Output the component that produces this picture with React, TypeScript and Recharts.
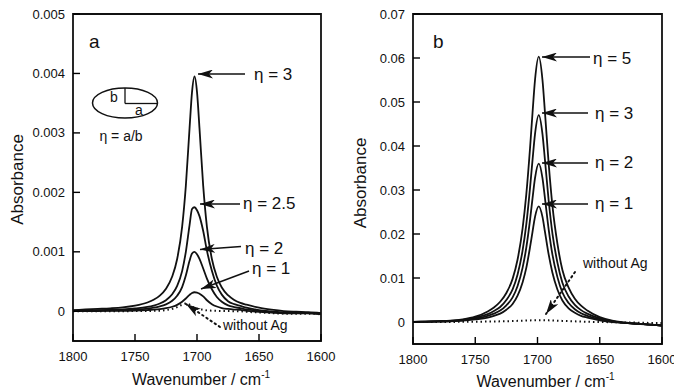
import React from 'react';
import { LineChart, Line, XAxis, YAxis, ReferenceArea, Label } from 'recharts';

// ---------- Panel a data ----------
const waveA = [1800, 1790, 1780, 1770, 1760, 1750, 1740, 1735, 1730, 1725, 1720, 1716, 1712, 1709, 1706, 1704, 1702, 1700, 1698, 1695, 1692, 1688, 1684, 1680, 1675, 1670, 1665, 1660, 1650, 1640, 1630, 1620, 1610, 1600];
const aEta3 = [0.00002, 0.00003, 0.00004, 0.00005, 0.000065, 0.000094, 0.000148, 0.000194, 0.000264, 0.00038, 0.000584, 0.00088, 0.00142, 0.00211, 0.00308, 0.00369, 0.00395, 0.00369, 0.00308, 0.00211, 0.00142, 0.00088, 0.00058, 0.0004, 0.00027, 0.00019, 0.00014, 0.00011, 0.00006, 0.000027, 0.000003, -0.000007, -0.000014, -0.00003];
const aEta25 = [0.000012, 0.000014, 0.000018, 0.000024, 0.000032, 0.000047, 0.000073, 0.000096, 0.00013, 0.000187, 0.000285, 0.000426, 0.000675, 0.001, 0.00145, 0.00172, 0.00175, 0.0017, 0.0016, 0.00135, 0.00102, 0.00068, 0.00043, 0.00028, 0.00017, 0.00012, 0.00009, 0.00006, 0.00002, -0.000002, -0.00002, -0.000024, -0.000027, -0.00004];
const aEta2 = [0.000007, 0.000009, 0.000011, 0.000015, 0.00002, 0.00003, 0.000046, 0.00006, 0.000082, 0.000117, 0.000177, 0.000261, 0.000407, 0.0006, 0.00085, 0.00097, 0.001, 0.00096, 0.00088, 0.00072, 0.00055, 0.00037, 0.00024, 0.00016, 0.0001, 0.00007, 0.000052, 0.00003, 0.000005, -0.000012, -0.000027, -0.00003, -0.000032, -0.000043];
const aEta1 = [0.000003, 0.000004, 0.000005, 0.000007, 0.000009, 0.000013, 0.000021, 0.000027, 0.000036, 0.000051, 0.000076, 0.000108, 0.00016, 0.000215, 0.000276, 0.000308, 0.00032, 0.000315, 0.000295, 0.00025, 0.000185, 0.00012, 0.00008, 0.000055, 0.000039, 0.000029, 0.000022, 0.000007, -0.000009, -0.000022, -0.000034, -0.000035, -0.000036, -0.000047];
const aNoAg = [0, 0, 0, 0, 0.000002, 0.000003, 0.000005, 0.000007, 0.00001, 0.00002, 0.00004, 0.00007, 0.00011, 0.00013, 0.00011, 0.00008, 0.00006, 0.000045, 0.000035, 0.000025, 0.000015, 0.00001, 0.000007, 0.000005, 0.000003, 0.000002, 0, -0.00001, -0.00002, -0.00003, -0.00004, -0.00004, -0.00004, -0.00005];
const yTicksA = [0, 0.001, 0.002, 0.003, 0.004, 0.005];

// ---------- Panel b data ----------
const waveB = [1800, 1790, 1780, 1770, 1760, 1750, 1740, 1735, 1730, 1725, 1720, 1716, 1712, 1709, 1706, 1704, 1702, 1699, 1696, 1694, 1691, 1688, 1684, 1680, 1675, 1670, 1665, 1660, 1650, 1640, 1630, 1620, 1610, 1600];
const bEta5 = [0, 0.0001, 0.0002, 0.0003, 0.0006, 0.0012, 0.0024, 0.0033, 0.0046, 0.0066, 0.0098, 0.0142, 0.0212, 0.029, 0.0395, 0.0475, 0.055, 0.0603, 0.055, 0.0476, 0.0359, 0.0264, 0.0178, 0.0118, 0.0078, 0.0053, 0.0037, 0.0026, 0.0011, 0.0003, -0.0001, -0.0004, -0.0006, -0.0008];
const bEta3 = [0, 0.00008, 0.00015, 0.00025, 0.0005, 0.001, 0.0018, 0.0025, 0.0034, 0.005, 0.0074, 0.0108, 0.0162, 0.0222, 0.0305, 0.0368, 0.0427, 0.047, 0.0427, 0.0368, 0.0275, 0.0201, 0.0135, 0.0089, 0.0058, 0.0039, 0.0027, 0.0019, 0.0008, 0.0002, -0.0002, -0.0004, -0.0006, -0.0008];
const bEta2 = [0, 0.00006, 0.00012, 0.0002, 0.0004, 0.0008, 0.0014, 0.0019, 0.0026, 0.0038, 0.0056, 0.0082, 0.0123, 0.0169, 0.0232, 0.0281, 0.0327, 0.036, 0.0327, 0.0281, 0.021, 0.0153, 0.0102, 0.0067, 0.0043, 0.0029, 0.002, 0.0014, 0.0006, 0.0001, -0.0002, -0.0004, -0.0006, -0.0008];
const bEta1 = [0, 0.00004, 0.00009, 0.00015, 0.0003, 0.0006, 0.001, 0.0014, 0.0019, 0.0028, 0.0041, 0.006, 0.009, 0.0123, 0.017, 0.0205, 0.0239, 0.0263, 0.0239, 0.0205, 0.0153, 0.0112, 0.0074, 0.0049, 0.0031, 0.0021, 0.0014, 0.001, 0.0004, 0, -0.0002, -0.0004, -0.0006, -0.0008];
const bNoAg = [0, 0, 0, 0.00002, 0.00004, 0.00006, 0.0001, 0.00012, 0.00015, 0.00018, 0.00022, 0.00026, 0.0003, 0.00033, 0.00036, 0.00038, 0.0004, 0.0004, 0.0004, 0.00039, 0.00037, 0.00034, 0.0003, 0.00025, 0.0002, 0.00015, 0.0001, 0.00005, 0, -0.00005, -0.0001, -0.00015, -0.0002, -0.0002];
const yTicksB = [0, 0.01, 0.02, 0.03, 0.04, 0.05, 0.06, 0.07];

const xTicks = [1800, 1750, 1700, 1650, 1600];

const FONT = '"Liberation Sans", Arial, Helvetica, sans-serif';

const rowsA = waveA.map((w, i) => ({ w, e3: aEta3[i], e25: aEta25[i], e2: aEta2[i], e1: aEta1[i], no: aNoAg[i] }));
const rowsB = waveB.map((w, i) => ({ w, e5: bEta5[i], e3: bEta3[i], e2: bEta2[i], e1: bEta1[i], no: bNoAg[i] }));

const XTick = (props: any) => {
  const { x, y, payload } = props;
  return (
    <g>
      <line x1={x} x2={x} y1={y} y2={y - 7} stroke="#000" strokeWidth={1.4} />
      <text x={x} y={y + 20} textAnchor="middle" fontSize={13} fontFamily={FONT} fill="#111">{payload.value}</text>
    </g>
  );
};

const makeYTick = (fmt: (v: number) => string) => (props: any) => {
  const { x, y, payload } = props;
  return (
    <g>
      <line x1={x} x2={x + 7} y1={y} y2={y} stroke="#000" strokeWidth={1.4} />
      <text x={x - 8} y={y + 4.5} textAnchor="end" fontSize={13} fontFamily={FONT} fill="#111">{fmt(payload.value)}</text>
    </g>
  );
};

const XTitle = (dx: number, dy: number) => (props: any) => {
  const vb = props.viewBox;
  return (
    <text x={vb.x + vb.width / 2 + dx} y={vb.y + dy} textAnchor="middle" fontSize={16} fontFamily={FONT} fill="#111">
      Wavenumber / cm<tspan dy={-7} fontSize={10}>-1</tspan>
    </text>
  );
};

const YTitle = (cxOff: number, cyOff: number) => (props: any) => {
  const vb = props.viewBox;
  const cx = vb.x + cxOff;
  const cy = vb.y + vb.height / 2 + cyOff;
  return (
    <text x={cx} y={cy} transform={`rotate(-90, ${cx}, ${cy})`} textAnchor="middle" dominantBaseline="central" fontSize={17} fontFamily={FONT} fill="#111">
      Absorbance
    </text>
  );
};

const fmtA = (v: number) => (v === 0 ? '0' : v.toFixed(3));
const fmtB = (v: number) => (v === 0 ? '0' : v.toFixed(2));

const lineProps = { type: 'monotone' as const, dot: false, stroke: '#111', strokeWidth: 1.8, isAnimationActive: false, activeDot: false };

export default function App() {
  return (
    <div style={{ position: 'absolute', left: 0, top: 0, width: 674, height: 391, background: '#fff', overflow: 'hidden' }}>
      <div style={{ position: 'absolute', left: 0, top: 0 }}>
        <LineChart width={340} height={391} data={rowsA} margin={{ top: 14, right: 19, bottom: 10, left: 13 }}>
          <XAxis dataKey="w" type="number" domain={[1600, 1800]} reversed ticks={xTicks} interval={0} allowDataOverflow
            height={40} tickSize={0} tickMargin={0} axisLine={false} tickLine={false} tick={<XTick />}>
            <Label content={XTitle(4, 44)} />
          </XAxis>
          <YAxis type="number" domain={[-0.0005, 0.005]} ticks={yTicksA} interval={0} allowDataOverflow
            width={60} tickSize={0} tickMargin={0} axisLine={false} tickLine={false} tick={makeYTick(fmtA)}>
            <Label content={YTitle(4, 2)} />
          </YAxis>
          <ReferenceArea x1={1600} x2={1800} y1={-0.0005} y2={0.005} fill="none" stroke="#111" strokeWidth={1.8} />
          <Line dataKey="e3" {...lineProps} />
          <Line dataKey="e25" {...lineProps} />
          <Line dataKey="e2" {...lineProps} />
          <Line dataKey="e1" {...lineProps} />
          <Line dataKey="no" {...lineProps} strokeDasharray="1.5 3" strokeWidth={2} />
        </LineChart>
      </div>
      <div style={{ position: 'absolute', left: 340, top: 0 }}>
        <LineChart width={334} height={391} data={rowsB} margin={{ top: 14, right: 12, bottom: 7, left: 13 }}>
          <XAxis dataKey="w" type="number" domain={[1600, 1800]} reversed ticks={xTicks} interval={0} allowDataOverflow
            height={40} tickSize={0} tickMargin={0} axisLine={false} tickLine={false} tick={<XTick />}>
            <Label content={XTitle(8, 43)} />
          </XAxis>
          <YAxis type="number" domain={[-0.005, 0.07]} ticks={yTicksB} interval={0} allowDataOverflow
            width={60} tickSize={0} tickMargin={0} axisLine={false} tickLine={false} tick={makeYTick(fmtB)}>
            <Label content={YTitle(7, 4)} />
          </YAxis>
          <ReferenceArea x1={1600} x2={1800} y1={-0.005} y2={0.07} fill="none" stroke="#111" strokeWidth={1.8} />
          <Line dataKey="e5" {...lineProps} />
          <Line dataKey="e3" {...lineProps} />
          <Line dataKey="e2" {...lineProps} />
          <Line dataKey="e1" {...lineProps} />
          <Line dataKey="no" {...lineProps} strokeDasharray="1.5 3" strokeWidth={2} />
        </LineChart>
      </div>
      <svg width={674} height={391} style={{ position: 'absolute', left: 0, top: 0, pointerEvents: 'none' }} fontFamily={FONT}>
        <defs>
          <marker id="ah" viewBox="0 0 15 9" refX={15} refY={4.5} markerWidth={15} markerHeight={9} markerUnits="userSpaceOnUse" orient="auto">
            <path d="M0,0 L15,4.5 L0,9 L4,4.5 Z" fill="#111" />
          </marker>
        </defs>
        {/* panel a */}
        <text x={89} y={48} fontSize={19} fill="#111">a</text>
        <ellipse cx={125} cy={103} rx={32.5} ry={15} fill="none" stroke="#111" strokeWidth={1.5} />
        <line x1={125} y1={88} x2={125} y2={103.5} stroke="#111" strokeWidth={1.3} />
        <line x1={125} y1={103.5} x2={157} y2={103.5} stroke="#111" strokeWidth={1.3} />
        <text x={110} y={102} fontSize={14} fill="#111">b</text>
        <text x={135} y={115} fontSize={14} fill="#111">a</text>
        <text x={121} y={141} fontSize={14} textAnchor="middle" fill="#111">η = a/b</text>

        <line x1={245} y1={74} x2={198} y2={74} stroke="#111" strokeWidth={1.6} markerEnd="url(#ah)" />
        <text x={254} y={80} fontSize={17} fill="#111">η = 3</text>
        <line x1={240} y1={204} x2={200} y2={204} stroke="#111" strokeWidth={1.6} markerEnd="url(#ah)" />
        <text x={243} y={209} fontSize={17} fill="#111">η = 2.5</text>
        <line x1={241} y1={246.5} x2={200} y2={249.5} stroke="#111" strokeWidth={1.6} markerEnd="url(#ah)" />
        <text x={245} y={254} fontSize={17} fill="#111">η = 2</text>
        <line x1={249} y1={271} x2={201} y2={289} stroke="#111" strokeWidth={1.6} markerEnd="url(#ah)" />
        <text x={252} y={274} fontSize={17} fill="#111">η = 1</text>
        <line x1={220} y1={327} x2={186} y2={304} stroke="#111" strokeWidth={2} strokeDasharray="1.5 3.5" strokeLinecap="round" markerEnd="url(#ah)" />
        <text x={223} y={330} fontSize={14} fill="#111">without Ag</text>

        {/* panel b */}
        <text x={433} y={48} fontSize={19} fill="#111">b</text>
        <line x1={590} y1={57} x2={542} y2={57} stroke="#111" strokeWidth={1.6} markerEnd="url(#ah)" />
        <text x={593} y={64} fontSize={17} fill="#111">η = 5</text>
        <line x1={588} y1={113} x2={542} y2={113} stroke="#111" strokeWidth={1.6} markerEnd="url(#ah)" />
        <text x={595} y={119} fontSize={17} fill="#111">η = 3</text>
        <line x1={588} y1={163} x2={542} y2={163} stroke="#111" strokeWidth={1.6} markerEnd="url(#ah)" />
        <text x={595} y={168} fontSize={17} fill="#111">η = 2</text>
        <line x1={588} y1={204} x2={542} y2={204} stroke="#111" strokeWidth={1.6} markerEnd="url(#ah)" />
        <text x={595} y={209} fontSize={17} fill="#111">η = 1</text>
        <line x1={575} y1={272} x2={546} y2={314} stroke="#111" strokeWidth={2} strokeDasharray="1.5 3.5" strokeLinecap="round" markerEnd="url(#ah)" />
        <text x={583} y={268} fontSize={14} fill="#111">without Ag</text>
      </svg>
    </div>
  );
}
